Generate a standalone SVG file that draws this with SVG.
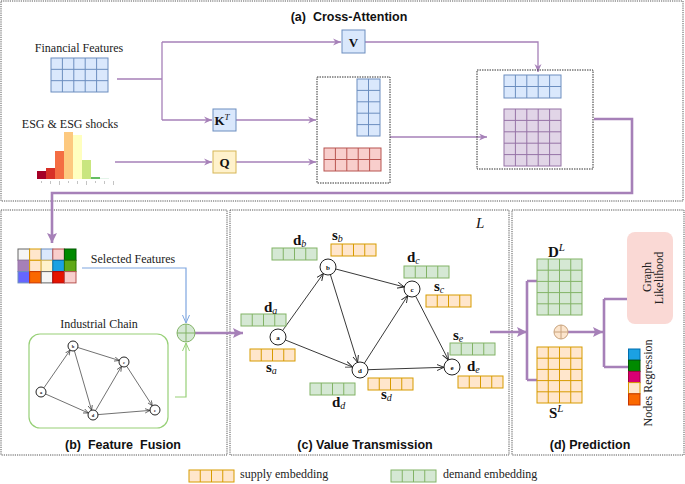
<svg xmlns="http://www.w3.org/2000/svg" xmlns:xlink="http://www.w3.org/1999/xlink" width="685" height="484" viewBox="0 0 685 484">
<style>
.panel{fill:none;stroke:#555;stroke-width:1;stroke-dasharray:1.2 1}
.dbox{fill:none;stroke:#333;stroke-width:1;stroke-dasharray:1.5 1}
.title{font-family:"Liberation Sans",Arial,sans-serif;font-weight:bold;font-size:12.5px;fill:#111;white-space:pre}
.lbl{font-family:"Liberation Serif","Times New Roman",serif;font-size:12px;fill:#222}
.math{font-family:"Liberation Serif","Times New Roman",serif;fill:#111}
.mb{font-weight:bold;font-size:15px}
.ms{font-style:italic;font-size:10px}
.blue{fill:#dae8fc;stroke:#6c8ebf;stroke-width:1}
.red{fill:#f8cecc;stroke:#b85450;stroke-width:1}
.purp{fill:#e1d5e7;stroke:#9673a6;stroke-width:1}
.grn{fill:#d5e8d4;stroke:#82b366;stroke-width:1}
.org{fill:#ffe6cc;stroke:#d79b00;stroke-width:1}
.ylw{fill:#fff2cc;stroke:#d6b656;stroke-width:1}
.pline{fill:none;stroke:#a680b8;stroke-width:1.3}
.pthick{fill:none;stroke:#a680b8;stroke-width:2.6}
.edge{fill:none;stroke:#222;stroke-width:0.9}
.node{fill:#fff;stroke:#222;stroke-width:1}
.nl{font-family:"Liberation Serif",serif;font-weight:bold;text-anchor:middle;fill:#111}
</style>
<defs>
<marker id="aP" markerWidth="10" markerHeight="10" refX="8" refY="4" orient="auto" markerUnits="userSpaceOnUse"><path d="M0,0.5 L8,4 L0,7.5 L2.5,4 Z" fill="#a680b8"/></marker>
<marker id="aPF" markerWidth="12" markerHeight="12" refX="10" refY="5" orient="auto" markerUnits="userSpaceOnUse"><path d="M0,0 L10,5 L0,10 L2,5 Z" fill="#a680b8"/></marker>
<marker id="aB" markerWidth="10" markerHeight="10" refX="8" refY="4" orient="auto" markerUnits="userSpaceOnUse"><path d="M0,0.5 L8,4 L0,7.5" fill="none" stroke="#7ea6e0" stroke-width="1"/></marker>
<marker id="aG" markerWidth="10" markerHeight="10" refX="8" refY="4" orient="auto" markerUnits="userSpaceOnUse"><path d="M0,0.5 L8,4 L0,7.5" fill="none" stroke="#97d077" stroke-width="1"/></marker>
<marker id="aK" markerWidth="10" markerHeight="10" refX="7" refY="3.5" orient="auto" markerUnits="userSpaceOnUse"><path d="M0,0.5 L7,3.5 L0,6.5" fill="none" stroke="#222" stroke-width="0.9"/></marker>
<marker id="aKs" markerWidth="8" markerHeight="8" refX="5" refY="2.5" orient="auto" markerUnits="userSpaceOnUse"><path d="M0,0.3 L5,2.5 L0,4.7" fill="none" stroke="#333" stroke-width="0.7"/></marker>
<g id="eo"><rect class="org" x="0" y="0" width="45" height="12"/><path d="M11.25,0V12M22.5,0V12M33.75,0V12" stroke="#d79b00" stroke-width="1"/></g>
<g id="eg"><rect class="grn" x="0" y="0" width="45" height="12"/><path d="M11.25,0V12M22.5,0V12M33.75,0V12" stroke="#82b366" stroke-width="1"/></g>
</defs>
<rect width="685" height="484" fill="#fff"/>

<!-- panels -->
<g id="panel-a"><rect class="panel" x="1" y="1" width="682" height="200"/><text class="title" x="349" y="21" text-anchor="middle">(a)  Cross-Attention</text></g>
<g id="panel-b"><rect class="panel" x="1" y="210" width="226" height="245"/><text class="title" x="123" y="449" text-anchor="middle">(b)  Feature  Fusion</text></g>
<g id="panel-c"><rect class="panel" x="230" y="210" width="279" height="245"/><text class="title" x="365" y="449" text-anchor="middle">(c) Value Transmission</text>
<text class="math" x="476" y="228" font-style="italic" font-size="15">L</text></g>
<g id="panel-d"><rect class="panel" x="512" y="210" width="172" height="245"/><text class="title" x="590" y="449" text-anchor="middle">(d) Prediction</text></g>

<!-- industrial chain frame (behind edges) -->
<g id="industrial-chain">
<text class="lbl" x="99" y="328" text-anchor="middle">Industrial Chain</text>
<rect x="29" y="334" width="139" height="94" rx="11" fill="#fff" stroke="#97d077" stroke-width="1.2"/>
</g>

<!-- connectors -->
<g id="connectors">
<path class="pline" d="M117,79H162M162,42V120"/>
<path class="pline" d="M162,42H341" marker-end="url(#aP)"/>
<path class="pline" d="M162,120H212" marker-end="url(#aP)"/>
<path class="pline" d="M115,162H212" marker-end="url(#aP)"/>
<path class="pline" d="M236,120H316" marker-end="url(#aP)"/>
<path class="pline" d="M236,162H316" marker-end="url(#aP)"/>
<path class="pline" d="M365,42H538V72" marker-end="url(#aP)"/>
<path class="pline" d="M390,137H487" marker-end="url(#aP)"/>
<path class="pthick" d="M594,119H632V193H52V243" marker-end="url(#aPF)"/>
<path d="M82,268H186V323" fill="none" stroke="#7ea6e0" stroke-width="1.2" marker-end="url(#aB)"/>
<path d="M175,397H186V343" fill="none" stroke="#97d077" stroke-width="1.2" marker-end="url(#aG)"/>
<path class="pthick" d="M195,333H243" marker-end="url(#aPF)"/>
<path class="pthick" d="M490,332H527" marker-end="url(#aPF)"/>
<path class="pthick" d="M527,281V380M527,281H537M527,380H537"/>
<path class="pthick" d="M568,332H603" marker-end="url(#aPF)"/>
<path class="pthick" d="M604,299V367M604,299H627M604,367H628"/>
<!-- graph c edges -->
<path class="edge" d="M282.6,330.5L323.4,273.5" marker-end="url(#aK)"/>
<path class="edge" d="M285.4,340L352.6,367" marker-end="url(#aK)"/>
<path class="edge" d="M335.7,269L404.3,287" marker-end="url(#aK)"/>
<path class="edge" d="M330.4,274.6L357.6,362.4" marker-end="url(#aK)"/>
<path class="edge" d="M364.3,363.3L407.7,295.7" marker-end="url(#aK)"/>
<path class="edge" d="M415.6,296.1L448.4,359.9" marker-end="url(#aK)"/>
<path class="edge" d="M368,369.7L444,367.3" marker-end="url(#aK)"/>
<!-- graph b edges -->
<g stroke="#333" stroke-width="0.7" fill="none">
<path d="M43.9,387.9L70.1,350.1" marker-end="url(#aKs)"/>
<path d="M45.6,394L88.4,413" marker-end="url(#aKs)"/>
<path d="M77.8,347.5L119.2,360.5" marker-end="url(#aKs)"/>
<path d="M74.4,350.8L91.6,410.2" marker-end="url(#aKs)"/>
<path d="M95.5,410.7L121.5,366.3" marker-end="url(#aKs)"/>
<path d="M126.7,366.2L152.3,405.8" marker-end="url(#aKs)"/>
<path d="M98,414.6L150,410.4" marker-end="url(#aKs)"/>
</g>
</g>

<!-- panel a nodes -->
<g id="financial-features">
<text class="lbl" x="79" y="52" text-anchor="middle" font-size="11">Financial Features</text>
<rect class="blue" x="51" y="58" width="57" height="34"/>
<path d="M62.4,58V92M73.8,58V92M85.2,58V92M96.6,58V92M51,69.33H108M51,80.67H108" stroke="#6c8ebf"/>
</g>
<g id="esg">
<text class="lbl" x="70" y="128" text-anchor="middle">ESG &amp; ESG shocks</text>
<rect x="37" y="171" width="9" height="8" fill="#a50026"/>
<rect x="46" y="168" width="9" height="11" fill="#d73027"/>
<rect x="55" y="151" width="9" height="28" fill="#f46d43"/>
<rect x="64" y="132" width="9" height="47" fill="#fdc97f"/>
<rect x="73" y="135" width="9" height="44" fill="#ffffbf"/>
<rect x="82" y="160" width="9" height="19" fill="#c9e67f"/>
<rect x="91" y="177" width="9" height="2" fill="#66bd63"/>
<rect x="100" y="178.3" width="9" height="0.7" fill="#d9efe0"/>
<g stroke="#aaa" stroke-width="0.7"><path d="M41.5,181V183M50.5,181V184M59.5,181V185M68.5,181V183M77.5,181V184M86.5,181V185M95.5,181V183M104.5,181V184M113.5,181V185"/></g>
</g>
<g id="V"><rect class="blue" x="342" y="30" width="23" height="23"/><text class="math" x="353.5" y="46.5" text-anchor="middle" font-weight="bold" font-size="13">V</text></g>
<g id="KT"><rect class="blue" x="213" y="109" width="23" height="22"/><text class="math" x="222" y="125" text-anchor="middle" font-weight="bold" font-size="13">K<tspan font-style="italic" font-weight="normal" font-size="9" dy="-5">T</tspan></text></g>
<g id="Q"><rect class="ylw" x="213" y="151" width="23" height="22"/><text class="math" x="224.5" y="167" text-anchor="middle" font-weight="bold" font-size="13">Q</text></g>
<g id="qk-box">
<rect class="dbox" x="317" y="77" width="73" height="106"/>
<rect class="blue" x="357" y="79" width="23" height="57"/>
<path d="M368.5,79V136M357,90.4H380M357,101.8H380M357,113.2H380M357,124.6H380" stroke="#6c8ebf"/>
<rect class="red" x="324" y="148" width="57" height="23"/>
<path d="M335.4,148V171M346.8,148V171M358.2,148V171M369.6,148V171M324,159.5H381" stroke="#b85450"/>
</g>
<g id="attn-box">
<rect class="dbox" x="477" y="70" width="116" height="99"/>
<rect class="blue" x="504" y="75" width="57" height="23"/>
<path d="M515.4,75V98M526.8,75V98M538.2,75V98M549.6,75V98M504,86.5H561" stroke="#6c8ebf"/>
<rect class="purp" x="504" y="109" width="57" height="57"/>
<path d="M515.4,109V166M526.8,109V166M538.2,109V166M549.6,109V166M504,120.4H561M504,131.8H561M504,143.2H561M504,154.6H561" stroke="#9673a6"/>
</g>

<!-- panel b nodes -->
<g id="selected-features">
<g stroke-width="1">
<rect x="18" y="249" width="11.6" height="11.3" fill="#f5f5f5" stroke="#666"/>
<rect x="29.6" y="249" width="11.6" height="11.3" fill="#ffe6cc" stroke="#d79b00"/>
<rect x="41.2" y="249" width="11.6" height="11.3" fill="#dae8fc" stroke="#6c8ebf"/>
<rect x="52.8" y="249" width="11.6" height="11.3" fill="#f8cecc" stroke="#b85450"/>
<rect x="64.4" y="249" width="11.6" height="11.3" fill="#008a00" stroke="#005700"/>
<rect x="18" y="260.3" width="11.6" height="11.3" fill="#a680b8" stroke="#9673a6"/>
<rect x="29.6" y="260.3" width="11.6" height="11.3" fill="#ffe6cc" stroke="#d79b00"/>
<rect x="41.2" y="260.3" width="11.6" height="11.3" fill="#fff2cc" stroke="#d6b656"/>
<rect x="52.8" y="260.3" width="11.6" height="11.3" fill="#1ba1e2" stroke="#006eaf"/>
<rect x="64.4" y="260.3" width="11.6" height="11.3" fill="#60a917" stroke="#2d7600"/>
<rect x="18" y="271.6" width="11.6" height="11.3" fill="#6666ff" stroke="#6c8ebf"/>
<rect x="29.6" y="271.6" width="11.6" height="11.3" fill="#fa6800" stroke="#c73500"/>
<rect x="41.2" y="271.6" width="11.6" height="11.3" fill="#f5f5f5" stroke="#666"/>
<rect x="52.8" y="271.6" width="11.6" height="11.3" fill="#e51400" stroke="#b20000"/>
<rect x="64.4" y="271.6" width="11.6" height="11.3" fill="#f8cecc" stroke="#b85450"/>
</g>
<text class="lbl" x="133" y="263" text-anchor="middle">Selected Features</text>
</g>
<g id="fusion-plus"><circle cx="186" cy="333" r="9" class="grn"/><path d="M177,333H195M186,324V342" stroke="#82b366"/></g>
<g id="chain-nodes">
<g class="node" stroke-width="0.8">
<circle cx="41" cy="392" r="5"/><circle cx="73" cy="346" r="5"/><circle cx="124" cy="362" r="5"/><circle cx="93" cy="415" r="5"/><circle cx="155" cy="410" r="5"/>
</g>
<g class="nl" font-size="4.5">
<text x="41" y="393.5">a</text><text x="73" y="347.5">b</text><text x="124" y="363.5">c</text><text x="93" y="416.5">d</text><text x="155" y="411.5">e</text>
</g>
</g>

<!-- panel c nodes -->
<g id="node-a"><circle class="node" cx="278" cy="337" r="8"/><text class="nl" x="278" y="339.5" font-size="7">a</text>
<use xlink:href="#eg" href="#eg" x="241" y="314"/><use xlink:href="#eo" href="#eo" x="250" y="349"/>
<text class="math" x="264" y="312"><tspan class="mb">d</tspan><tspan class="ms" dy="2">a</tspan></text>
<text class="math" x="266" y="372"><tspan class="mb">s</tspan><tspan class="ms" dy="2">a</tspan></text></g>
<g id="node-b"><circle class="node" cx="328" cy="267" r="8"/><text class="nl" x="328" y="269.5" font-size="7">b</text>
<use xlink:href="#eg" href="#eg" x="272" y="248"/><use xlink:href="#eo" href="#eo" x="331" y="244"/>
<text class="math" x="293" y="245"><tspan class="mb">d</tspan><tspan class="ms" dy="2">b</tspan></text>
<text class="math" x="332" y="240"><tspan class="mb">s</tspan><tspan class="ms" dy="2">b</tspan></text></g>
<g id="node-c"><circle class="node" cx="412" cy="289" r="8"/><text class="nl" x="412" y="291.5" font-size="7">c</text>
<use xlink:href="#eg" href="#eg" x="404" y="266"/><use xlink:href="#eo" href="#eo" x="426" y="295"/>
<text class="math" x="407" y="262"><tspan class="mb">d</tspan><tspan class="ms" dy="2">c</tspan></text>
<text class="math" x="434" y="291"><tspan class="mb">s</tspan><tspan class="ms" dy="2">c</tspan></text></g>
<g id="node-d"><circle class="node" cx="360" cy="370" r="8"/><text class="nl" x="360" y="372.5" font-size="7">d</text>
<use xlink:href="#eg" href="#eg" x="310" y="383"/><use xlink:href="#eo" href="#eo" x="368" y="378"/>
<text class="math" x="332" y="407"><tspan class="mb">d</tspan><tspan class="ms" dy="2">d</tspan></text>
<text class="math" x="381" y="399"><tspan class="mb">s</tspan><tspan class="ms" dy="2">d</tspan></text></g>
<g id="node-e"><circle class="node" cx="452" cy="367" r="8"/><text class="nl" x="452" y="369.5" font-size="7">e</text>
<use xlink:href="#eg" href="#eg" x="450" y="343"/><use xlink:href="#eo" href="#eo" x="458" y="376"/>
<text class="math" x="453" y="340"><tspan class="mb">s</tspan><tspan class="ms" dy="2">e</tspan></text>
<text class="math" x="467" y="371"><tspan class="mb">d</tspan><tspan class="ms" dy="2">e</tspan></text></g>

<!-- panel d nodes -->
<g id="DL">
<text class="math" x="548" y="257"><tspan class="mb" font-size="16">D</tspan><tspan font-style="italic" font-size="11" dy="-6">L</tspan></text>
<rect class="grn" x="537" y="259" width="45" height="56"/>
<path d="M548.25,259V315M559.5,259V315M570.75,259V315M537,270.2H582M537,281.4H582M537,292.6H582M537,303.8H582" stroke="#82b366"/>
</g>
<g id="SL">
<rect class="org" x="537" y="347" width="45" height="56"/>
<path d="M548.25,347V403M559.5,347V403M570.75,347V403M537,358.2H582M537,369.4H582M537,380.6H582M537,391.8H582" stroke="#d79b00"/>
<text class="math" x="549" y="418"><tspan class="mb" font-size="16">S</tspan><tspan font-style="italic" font-size="11" dy="-6">L</tspan></text>
</g>
<g id="pred-plus"><circle cx="561" cy="332" r="7" fill="#fce5cd" stroke="#c8a27c"/><path d="M554,332H568M561,325V339" stroke="#c8a27c"/></g>
<g id="graph-likelihood">
<rect x="627" y="232" width="46" height="92" rx="8" fill="#fad9d5"/>
<text class="lbl" font-size="13" text-anchor="middle" transform="translate(651,277) rotate(-90)">Graph</text>
<text class="lbl" font-size="13" text-anchor="middle" transform="translate(663,278) rotate(-90)">Likelihood</text>
</g>
<g id="nodes-regression">
<rect x="628.5" y="349" width="11.5" height="11.2" fill="#1ba1e2" stroke="#006eaf"/>
<rect x="628.5" y="360.2" width="11.5" height="11.2" fill="#008a00" stroke="#005700"/>
<rect x="628.5" y="371.4" width="11.5" height="11.2" fill="#d80073" stroke="#a50040"/>
<rect x="628.5" y="382.6" width="11.5" height="11.2" fill="#ffe6cc" stroke="#d79b00"/>
<rect x="628.5" y="393.8" width="11.5" height="11.2" fill="#fa6800" stroke="#c73500"/>
<text class="lbl" text-anchor="middle" transform="translate(652,383) rotate(-90)">Nodes Regression</text>
</g>

<!-- legend -->
<g id="legend">
<use xlink:href="#eo" href="#eo" x="189" y="470"/><text class="lbl" x="240" y="478">supply embedding</text>
<use xlink:href="#eg" href="#eg" x="391" y="470"/><text class="lbl" x="443" y="478">demand embedding</text>
</g>
</svg>
